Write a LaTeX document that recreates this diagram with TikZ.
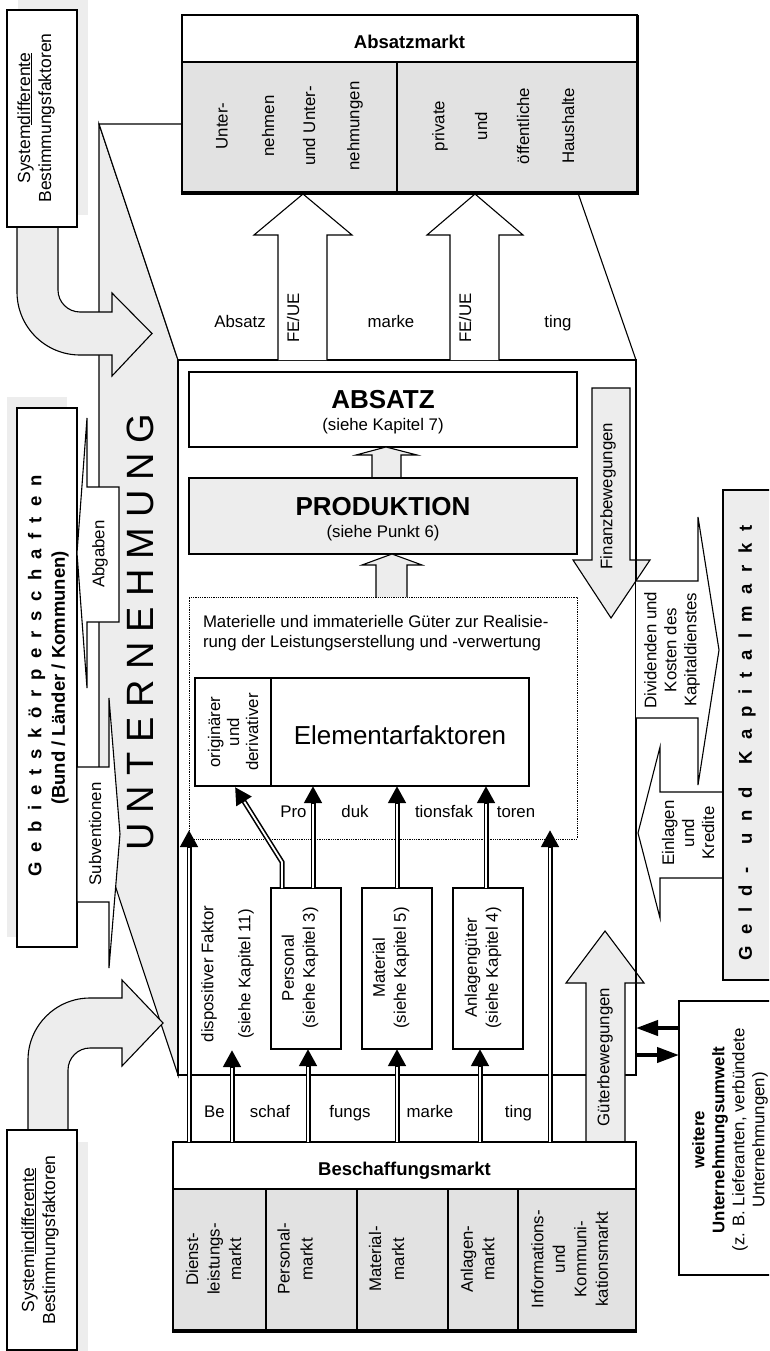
\documentclass[tikz,border=0pt]{standalone}
\usepackage{fontspec}
\setmainfont{Liberation Sans}
\usetikzlibrary{arrows.meta,fit}
\definecolor{paleGray}{HTML}{EDEDED}
\definecolor{cellGray}{HTML}{E2E2E2}
\newlength{\trkgap}
\newcommand{\trk}{\hspace{\trkgap}}

\begin{document}
\begin{tikzpicture}[x=1pt,y=-1pt,
  line join=miter,
  every node/.style={inner sep=0pt,outer sep=0pt},
  ln/.style={draw=black,line width=1.1pt},
  box/.style={ln,fill=white},
  graybox/.style={ln,fill=paleGray},
  txt/.style={font=\fontsize{16.8}{20}\selectfont,align=center},
  btxt/.style={font=\fontsize{18.5}{22}\selectfont\bfseries,align=center},
  bigtxt/.style={font=\fontsize{26}{28}\selectfont},
  dblarrow/.style={draw=white,line width=1.8pt,shorten >=17.5pt,
    preaction={draw=black,line width=5pt,shorten >=0pt,-{Triangle[length=17pt,width=17pt]}}},
  fatarrow/.style={draw=black,line width=4pt,-{Triangle[length=22pt,width=15pt]}},
]

\useasboundingbox (0,0) rectangle (769,1351);
\clip (0,0) rectangle (769,1351);

% ---------- shadows behind the outer boxes ----------
\fill[paleGray] (18,0) rectangle (88,215);
\fill[paleGray] (18,1142) rectangle (88,1351);
\fill[paleGray] (7,397) rectangle (67,937);

% ---------- the enterprise block: side face, top face, front face ----------
\draw[ln,fill=paleGray] (99,124) -- (178,360) -- (178,1075) -- (99,837) -- cycle;
\draw[ln,fill=white] (99,124) -- (578,124) -- (578,193) -- (636,360) -- (178,360) -- cycle;
\node[box,fit={(178,360) (636,1075)}] (unt) {};
\node[font=\fontsize{38}{40}\selectfont,rotate=90] (untname) at (140,632)
  {\setlength{\trkgap}{10pt}U\trk N\trk T\trk E\trk R\trk N\trk E\trk H\trk M\trk U\trk N\trk G};

% ---------- public authorities ----------
\node[box,fit={(17,408) (77,947)}] (gebiet) {};
\node[btxt,rotate=90] (gebietname) at (36.5,676)
  {\setlength{\trkgap}{10pt}G\trk e\trk b\trk i\trk e\trk t\trk s\trk k\trk ö\trk r\trk p\trk e\trk r\trk s\trk c\trk h\trk a\trk f\trk t\trk e\trk n};
\node[btxt,rotate=90] (gebietsub) at (60,678) {(Bund / Länder / Kommunen)};

% ---------- system-specific / system-independent factors ----------
\draw[ln,fill=paleGray] (17,227) -- (17,292) .. controls (17,326.8) and (45.2,355) .. (80,355)
  -- (112,355) -- (112,376) -- (152,333.5) -- (112,293) -- (112,312) -- (80,312)
  .. controls (67.9,312) and (58,302.1) .. (58,290) -- (58,227) -- cycle;
\node[box,fit={(7,10) (77,227)}] (sysdiff) {};
\node[txt,rotate=90,font=\fontsize{17.5}{21}\selectfont] (sysdifflabel) at (36,118)
  {System\underline{differente}\\Bestimmungsfaktoren};

\draw[ln,fill=paleGray] (28,1130) -- (28,1060) .. controls (28,1025.8) and (55.8,998) .. (90,998)
  -- (122,998) -- (122,980) -- (163,1023) -- (122,1066) -- (122,1048) -- (90,1048)
  .. controls (77.9,1048) and (68,1057.9) .. (68,1070) -- (68,1130) -- cycle;
\node[box,fit={(7,1130) (77,1350)}] (sysindiff) {};
\node[txt,rotate=90,font=\fontsize{17.5}{21}\selectfont] (sysindifflabel) at (40,1240)
  {System\underline{indifferente}\\Bestimmungsfaktoren};

% ---------- levies and subsidies ----------
\draw[ln,fill=white] (119,487) -- (87,487) -- (87,418) -- (77,553) -- (87,688) -- (87,622) -- (119,622) -- cycle;
\node[txt,rotate=90] (abgaben) at (100,554) {Abgaben};
\draw[ln,fill=white] (77,767) -- (109,767) -- (109,698) -- (120,834) -- (109,968) -- (109,902) -- (77,902) -- cycle;
\node[txt,rotate=90] (subv) at (95,834) {Subventionen};

% ---------- sales marketing arrows ----------
\draw[ln,fill=white] (278,360) -- (278,235) -- (254,235) -- (303,194) -- (352,235) -- (327,235) -- (327,360);
\draw[ln,fill=white] (450,360) -- (450,235) -- (427,235) -- (475,194) -- (523,235) -- (499,235) -- (499,360);
\node[txt,rotate=90] (feue1) at (293,318) {FE/UE};
\node[txt,rotate=90] (feue2) at (465,318) {FE/UE};
\node[txt,anchor=base] (mk1) at (240,327) {Absatz};
\node[txt,anchor=base] (mk2) at (391,327) {marke};
\node[txt,anchor=base] (mk3) at (558,327) {ting};

% ---------- sales market ----------
\fill[white] (182,15) rectangle (637,62);
\fill[cellGray] (182,62) rectangle (637,193);
\node[draw,line width=1.6pt,fit={(182,15) (637,193)}] (absmarkt) {};
\draw[line width=1.4pt] (182,62) -- (637,62);
\draw[ln] (397,62) -- (397,193);
\draw[line width=4pt] (180.5,193.5) -- (639,193.5);
\draw[line width=2.6pt] (637.5,15) -- (637.5,193);
\node[btxt,anchor=base] (abstitle) at (409.5,49) {Absatzmarkt};
\node[txt,rotate=90] (am1) at (222,126) {Unter-};
\node[txt,rotate=90] (am2) at (268,126) {nehmen};
\node[txt,rotate=90] (am3) at (309,126) {und Unter-};
\node[txt,rotate=90] (am4) at (355,126) {nehmungen};
\node[txt,rotate=90] (am5) at (440,126) {private};
\node[txt,rotate=90] (am6) at (481,126) {und};
\node[txt,rotate=90] (am7) at (523,126) {öffentliche};
\node[txt,rotate=90] (am8) at (568,126) {Haushalte};

% ---------- sales and production ----------
\node[box,fit={(189,372) (577,447)}] (absatz) {};
\node[font=\fontsize{26}{28}\selectfont\bfseries,anchor=base] (absatzname) at (383,408) {ABSATZ};
\node[txt,anchor=base] (absatzref) at (383,430) {(siehe Kapitel 7)};
\draw[ln,fill=paleGray] (372,478) -- (372,455) -- (356,455) -- (386,447) -- (417,455) -- (401,455) -- (401,478);
\node[graybox,fit={(189,478) (577,554)}] (prod) {};
\node[font=\fontsize{26}{28}\selectfont\bfseries,anchor=base] (prodname) at (383,515) {PRODUKTION};
\node[txt,anchor=base] (prodref) at (383,537) {(siehe Punkt 6)};
\draw[ln,fill=paleGray] (376,597) -- (376,565) -- (362,565) -- (392,554) -- (422,565) -- (407,565) -- (407,597);

% ---------- goods for creating and using output ----------
\node[draw,densely dotted,line width=0.8pt,fit={(189,597) (577,839)}] (gueter) {};
\node[txt,anchor=base west,align=left] (gueterlabel) at (203,647)
  {Materielle und immaterielle Güter zur Realisie-\\rung der Leistungserstellung und -verwertung};
\node[box,fit={(195,678) (529,786)}] (elem) {};
\draw[ln] (271,678) -- (271,786);
\node[txt,rotate=90,font=\fontsize{16.8}{19}\selectfont] (origlabel) at (233,732) {originärer\\und\\derivativer};
\node[bigtxt] (elemname) at (400,735) {Elementarfaktoren};
\node[txt,anchor=base] (pf1) at (293.5,817) {Pro};
\node[txt,anchor=base] (pf2) at (355,817) {duk};
\node[txt,anchor=base] (pf3) at (444,817) {tionsfak};
\node[txt,anchor=base] (pf4) at (516,817) {toren};

% ---------- factors of production ----------
\node[box,fit={(271,888) (341,1049)}] (pers) {};
\node[box,fit={(362,888) (432,1049)}] (mat) {};
\node[box,fit={(453,888) (523,1049)}] (anl) {};
\node[txt,rotate=90,font=\fontsize{16.8}{21}\selectfont] (perslabel) at (300,968) {Personal\\(siehe Kapitel 3)};
\node[txt,rotate=90,font=\fontsize{16.8}{21}\selectfont] (matlabel) at (391,968) {Material\\(siehe Kapitel 5)};
\node[txt,rotate=90,font=\fontsize{16.8}{21}\selectfont] (anllabel) at (483,968) {Anlagengüter\\(siehe Kapitel 4)};
\node[txt,rotate=90] (displabel) at (209,974) {dispositiver Faktor};
\node[txt,rotate=90] (dispref) at (246,974) {(siehe Kapitel 11)};

% ---------- finance and goods flows ----------
\draw[ln,fill=paleGray] (592,388) -- (630,388) -- (630,560) -- (650,560) -- (611,618) -- (573,560) -- (592,560) -- cycle;
\node[txt,rotate=90] (finlabel) at (608,496) {Finanzbewegungen};
\draw[ln,fill=paleGray] (586,1142) -- (586,983) -- (566,983) -- (605,931) -- (644,983) -- (625,983) -- (625,1142);
\node[txt,rotate=90] (gblabel) at (605,1057) {Güterbewegungen};
\draw[ln] (unt.north east) -- (unt.south east);

% ---------- money and capital market ----------
\draw[ln,fill=white] (636,581) -- (698,581) -- (698,517) -- (719,650) -- (698,785) -- (698,718) -- (636,718);
\node[txt,rotate=90] (divlabel) at (672,650) {Dividenden und\\Kosten des\\Kapitaldienstes};
\draw[ln,fill=white] (723,792) -- (660,792) -- (660,747) -- (638,833) -- (660,918) -- (660,878) -- (723,878);
\node[txt,rotate=90] (einlabel) at (688,833) {Einlagen\\und\\Kredite};
\node[graybox,fit={(723,490) (775,980)}] (geld) {};
\node[btxt,rotate=90] (geldname) at (747,743)
  {\setlength{\trkgap}{11.5pt}G\trk e\trk l\trk d\trk -\trk\trk u\trk n\trk d\trk\trk K\trk a\trk p\trk i\trk t\trk a\trk l\trk m\trk a\trk r\trk k\trk t};

% ---------- further environment ----------
\node[box,fit={(679,1001) (790,1275)}] (weit) {};
\node[txt,rotate=90] (weitlabel) at (730,1140)
  {\textbf{weitere}\\\textbf{Unternehmungsumwelt}\\(z. B. Lieferanten, verbündete\\Unternehmungen)};
\coordinate (wA) at (0,1028);
\coordinate (wB) at (0,1055);
\draw[fatarrow] (weit.west |- wA) -- (unt.east |- wA);
\draw[fatarrow] (unt.east |- wB) -- (weit.west |- wB);

% ---------- procurement market ----------
\fill[white] (173,1142) rectangle (636,1189);
\fill[cellGray] (173,1189) rectangle (636,1331);
\node[draw,line width=2.4pt,fit={(173,1142) (636,1331)}] (besch) {};
\draw[line width=1.6pt] (173,1189) -- (636,1189);
\draw[line width=4pt] (171.8,1331) -- (637.2,1331);
\foreach \xd in {266,357,448,518} \draw[ln] (\xd,1189) -- (\xd,1331);
\node[btxt,anchor=base] (beschtitle) at (404.5,1175) {Beschaffungsmarkt};
\node[txt,rotate=90,font=\fontsize{16.8}{21.5}\selectfont] (bm1) at (213.5,1259) {Dienst-\\leistungs-\\markt};
\node[txt,rotate=90,font=\fontsize{16.8}{23}\selectfont] (bm2) at (295,1259) {Personal-\\markt};
\node[txt,rotate=90,font=\fontsize{16.8}{23}\selectfont] (bm3) at (386.5,1259) {Material-\\markt};
\node[txt,rotate=90,font=\fontsize{16.8}{21.5}\selectfont] (bm4) at (477.5,1259) {Anlagen-\\markt};
\node[txt,rotate=90,font=\fontsize{16.8}{21.5}\selectfont] (bm5) at (569.5,1259) {Informations-\\und\\Kommuni-\\kationsmarkt};
\node[txt,anchor=base] (bf1) at (214.5,1117) {Be};
\node[txt,anchor=base] (bf2) at (270,1117) {schaf};
\node[txt,anchor=base] (bf3) at (350,1117) {fungs};
\node[txt,anchor=base] (bf4) at (430,1117) {marke};
\node[txt,anchor=base] (bf5) at (518.5,1117) {ting};

% ---------- flows of the factors ----------
\coordinate (leftTip) at (189,830);
\coordinate (rightTip) at (550,830);
\coordinate (dispTip) at (232,1050);
\coordinate (persIn) at (308,0);
\coordinate (anlIn) at (480,0);
\draw[dblarrow] (besch.north -| leftTip) -- (leftTip);
\draw[dblarrow] (besch.north -| rightTip) -- (rightTip);
\draw[dblarrow] (besch.north -| dispTip) -- (dispTip);
\draw[dblarrow] (besch.north -| persIn) -- (pers.south -| persIn);
\draw[dblarrow] (besch.north -| mat.south) -- (mat.south);
\draw[dblarrow] (besch.north -| anlIn) -- (anl.south -| anlIn);

\coordinate (elemP) at (313,0);
\coordinate (elemA) at (486,0);
\coordinate (persBend) at (282,862);
\coordinate (origTip) at (235,787);
\draw[dblarrow] (pers.north -| elemP) -- (elem.south -| elemP);
\draw[dblarrow] (mat.north) -- (elem.south -| mat.north);
\draw[dblarrow] (anl.north -| elemA) -- (elem.south -| elemA);
\draw[dblarrow] (pers.north -| persBend) -- (persBend) -- (origTip);

\end{tikzpicture}
\end{document}
